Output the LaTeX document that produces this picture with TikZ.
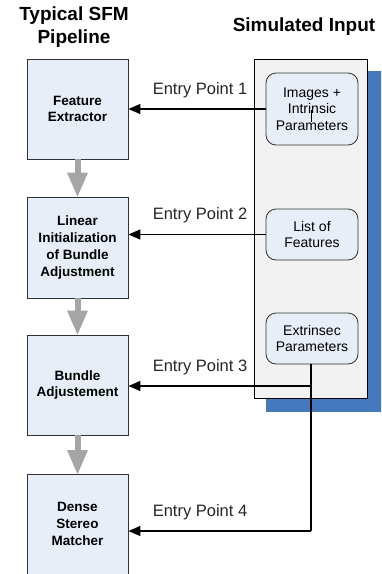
\documentclass[tikz,border=0pt]{standalone}
\usepackage{fontspec}
\setmainfont{Liberation Sans}
\usetikzlibrary{arrows.meta}
\definecolor{boxfill}{RGB}{232,238,248}
\definecolor{panelfill}{RGB}{242,242,242}
\definecolor{shadowblue}{RGB}{70,120,190}
\definecolor{flowgray}{RGB}{165,165,165}
\definecolor{edge}{RGB}{50,50,50}
\tikzset{
  stage/.style={draw=edge, line width=0.9pt, fill=boxfill, minimum width=101pt, inner sep=0pt,
    align=center, font=\bfseries\fontsize{13.5}{16.7}\selectfont},
  inbox/.style={draw=edge, line width=0.8pt, fill=boxfill, rounded corners=10pt, minimum width=92pt,
    inner sep=0pt, align=center, font=\fontsize{14}{16.5}\selectfont},
  entry/.style={font=\fontsize{16.5}{18}\selectfont, text=black!85},
  feed/.style={draw=black, line width=1.6pt, -{Triangle[length=12pt,width=10pt]}},
  flow/.style={draw=flowgray, line width=6pt, -{Triangle[length=25pt,width=19pt]}, shorten >=-1pt},
  title/.style={font=\bfseries\fontsize{19}{23}\selectfont, align=center}
}
\begin{document}
\begin{tikzpicture}[x=1pt,y=-1pt]
\useasboundingbox (0,0) rectangle (381,574);
\clip (0,0) rectangle (381,574);
\fill[white] (0,0) rectangle (381,574);
% titles
\node[title] (t1) at (74,27) {Typical SFM\\Pipeline};
\node[title] (t2) at (304,27) {Simulated Input};
% panel
\fill[shadowblue] (266,71) rectangle (383,412);
\draw[draw=black, line width=0.9pt, fill=panelfill] (254,59) rectangle (367,398);
% stages
\node[stage, minimum height=100pt] (s1) at (77.5,109) {Feature\\Extractor};
\node[stage, minimum height=101pt] (s2) at (77.5,247.5) {Linear\\Initialization\\of Bundle\\Adjustment};
\node[stage, minimum height=100pt] (s3) at (77.5,385) {Bundle\\Adjustement};
\node[stage, minimum height=110pt, anchor=north] (s4) at (77.5,474) {};
\node[font=\bfseries\fontsize{13.5}{16.7}\selectfont, align=center] (s4t) at (77.5,524) {Dense\\Stereo\\Matcher};
% inputs
\node[inbox, minimum height=72pt] (i1) at (312,109) {Images +\\Intrinsic\\Parameters};
\node[inbox, minimum height=51pt] (i2) at (312,234.5) {List of\\Features};
\node[inbox, minimum height=51pt] (i3) at (312,338.5) {Extrinsec\\Parameters};
\draw[line width=0.6pt] (311,110) -- (311,122);
% flow arrows
\draw[flow] (s1.south) -- (s2.north);
\draw[flow] (s2.south) -- (s3.north);
\draw[flow] (s3.south) -- (s4.north);
% feeds
\draw[feed] (i1.west) -- (i1.west -| s1.east);
\draw[feed] (i2.west) -- (i2.west -| s2.east);
\coordinate (c3) at (311,386);
\coordinate (c4) at (311,531);
\draw[line width=1.6pt] (i3.south -| c3) -- (c4);
\draw[feed] (c3) -- (s3.east |- c3);
\draw[feed] (c4) -- (s4.east |- c4);
% labels
\node[entry] (e1) at (200,90) {Entry Point 1};
\node[entry] (e2) at (200,215) {Entry Point 2};
\node[entry] (e3) at (200,367) {Entry Point 3};
\node[entry] (e4) at (200,512) {Entry Point 4};
\end{tikzpicture}
\end{document}
